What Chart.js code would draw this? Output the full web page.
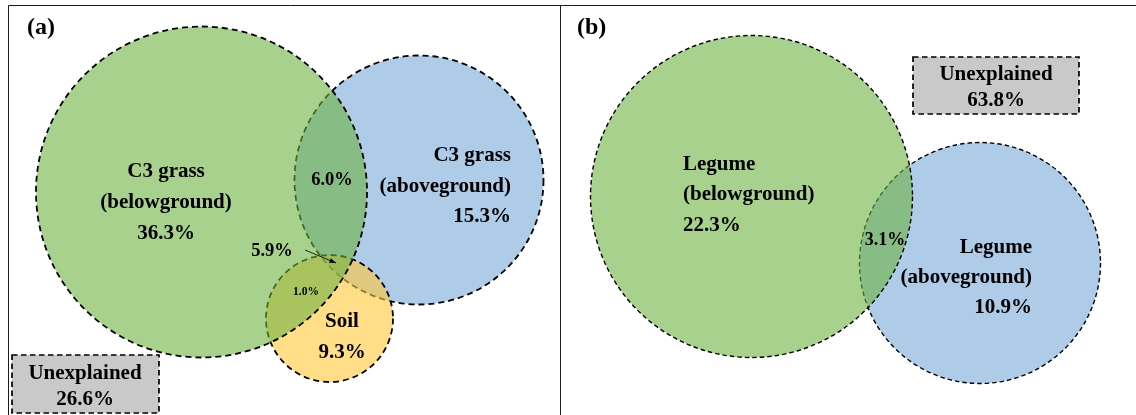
<!DOCTYPE html>
<html>
<head>
<meta charset="utf-8">
<script src="https://cdn.jsdelivr.net/npm/chart.js@4/dist/chart.umd.min.js"></script>
<style>
  html, body { margin: 0; padding: 0; background: #ffffff; }
  #wrap { width: 1136px; height: 415px; position: relative; }
</style>
</head>
<body>
<div id="wrap"><canvas id="venn"></canvas></div>
<script>
// ---- Variance partitioning values (%) ----
// Panel (a): C3 grass below/aboveground and soil
const aNames = ['C3 grass', 'C3 grass', 'Soil'];
const aParts = ['(belowground)', '(aboveground)', ''];
const aUnique = [36.3, 15.3, 9.3];
// shared fractions: below∩above, below∩above∩soil, below∩soil
const aShared = [6.0, 5.9, 1.0];
const aUnexplained = [26.6];

// Panel (b): legume below/aboveground
const bNames = ['Legume', 'Legume'];
const bParts = ['(belowground)', '(aboveground)'];
const bUnique = [22.3, 10.9];
const bShared = [3.1];
const bUnexplained = [63.8];

// ---- Layout (canvas units: x to the right, y downward) ----
const circlesA = [
  { x: 201.5, y: 192, r: 165.5 },   // belowground
  { x: 419, y: 180, r: 124.5 },     // aboveground
  { x: 329.5, y: 318.5, r: 63.5 }   // soil
];
const circlesB = [
  { x: 751.5, y: 196.5, r: 161 },   // belowground
  { x: 980, y: 263, r: 120.5 }      // aboveground
];

const GREEN = 'rgba(112,178,67,0.6)';
const BLUE = 'rgba(120,168,217,0.6)';
const GOLD = 'rgba(255,200,55,0.6)';
const FONT = '"Liberation Serif", "Times New Roman", serif';
const DASH_A = [6, 4];
const DASH_B = [4.5, 3];

function pct(v) { return v.toFixed(1) + '%'; }

function circleSet(c, color, order, width, dash) {
  return {
    data: [{ x: c.x, y: c.y, r: c.r }],
    backgroundColor: color,
    borderColor: '#000000',
    borderWidth: width,
    outlineDash: dash,
    order: order,
    clip: false
  };
}

// Dashed outlines for the circles (dash pattern per dataset)
const dashPlugin = {
  id: 'dashedOutline',
  beforeDatasetDraw(chart, args) {
    const ds = chart.data.datasets[args.index];
    chart.ctx.save();
    chart.ctx.setLineDash(ds.outlineDash || []);
  },
  afterDatasetDraw(chart) { chart.ctx.restore(); }
};

// Frame, panel letters, labels, unexplained boxes and the arrow
const annotatePlugin = {
  id: 'annotate',
  beforeDatasetsDraw(chart) {
    const ctx = chart.ctx, sx = chart.scales.x, sy = chart.scales.y;
    const X = v => sx.getPixelForValue(v), Y = v => sy.getPixelForValue(v);
    ctx.save();
    ctx.strokeStyle = '#1a1a1a';
    ctx.lineWidth = 1;
    ctx.beginPath();
    ctx.moveTo(X(8.5), Y(415)); ctx.lineTo(X(8.5), Y(5.5)); ctx.lineTo(X(1136), Y(5.5));
    ctx.moveTo(X(560.5), Y(5.5)); ctx.lineTo(X(560.5), Y(415));
    ctx.stroke();
    ctx.restore();
  },
  afterDatasetsDraw(chart) {
    const ctx = chart.ctx, sx = chart.scales.x, sy = chart.scales.y;
    const X = v => sx.getPixelForValue(v), Y = v => sy.getPixelForValue(v);
    ctx.save();
    ctx.fillStyle = '#000000';
    ctx.textBaseline = 'middle';

    function text(str, x, y, size, align) {
      ctx.font = 'bold ' + size + 'px ' + FONT;
      ctx.textAlign = align || 'center';
      ctx.fillText(str, X(x), Y(y));
    }
    function box(x0, y0, x1, y1) {
      ctx.save();
      ctx.fillStyle = '#c9c9c9';
      ctx.fillRect(X(x0), Y(y0), X(x1) - X(x0), Y(y1) - Y(y0));
      ctx.strokeStyle = '#000000';
      ctx.lineWidth = 1.7;
      ctx.setLineDash([5.5, 3.5]);
      ctx.strokeRect(X(x0), Y(y0), X(x1) - X(x0), Y(y1) - Y(y0));
      ctx.restore();
    }

    // panel letters
    text('(a)', 27, 28, 24, 'left');
    text('(b)', 577, 28, 24, 'left');

    // panel (a) labels
    text(aNames[0], 166, 172, 21);
    text(aParts[0], 166, 203, 21);
    text(pct(aUnique[0]), 166, 234, 21);

    text(aNames[1], 511, 156, 21, 'right');
    text(aParts[1], 511, 187, 21, 'right');
    text(pct(aUnique[1]), 511, 217, 21, 'right');

    text(aNames[2], 342, 322, 21);
    text(pct(aUnique[2]), 342, 353, 21);

    text(pct(aShared[0]), 332, 180, 18.5);
    text(pct(aShared[1]), 272, 251, 18.5);
    text(pct(aShared[2]), 306, 292, 11.5);

    // arrow to the three-way overlap
    const ax0 = X(305), ay0 = Y(250), ax1 = X(336), ay1 = Y(263);
    ctx.save();
    ctx.strokeStyle = '#000000';
    ctx.lineWidth = 0.8;
    ctx.beginPath(); ctx.moveTo(ax0, ay0); ctx.lineTo(ax1, ay1); ctx.stroke();
    const ang = Math.atan2(ay1 - ay0, ax1 - ax0);
    ctx.beginPath();
    ctx.moveTo(ax1, ay1);
    ctx.lineTo(ax1 - 7 * Math.cos(ang - 0.35), ay1 - 7 * Math.sin(ang - 0.35));
    ctx.lineTo(ax1 - 7 * Math.cos(ang + 0.35), ay1 - 7 * Math.sin(ang + 0.35));
    ctx.closePath(); ctx.fill();
    ctx.restore();

    box(12, 355, 159, 413);
    text('Unexplained', 85, 374, 21);
    text(pct(aUnexplained[0]), 85, 400, 21);

    // panel (b) labels
    text(bNames[0], 683, 165, 21, 'left');
    text(bParts[0], 683, 195, 21, 'left');
    text(pct(bUnique[0]), 683, 226, 21, 'left');

    text(bNames[1], 1032, 248, 21, 'right');
    text(bParts[1], 1032, 278, 21, 'right');
    text(pct(bUnique[1]), 1032, 308, 21, 'right');

    text(pct(bShared[0]), 885, 240, 18);

    box(913, 57, 1079, 114);
    text('Unexplained', 996, 75, 21);
    text(pct(bUnexplained[0]), 996, 101, 21);

    ctx.restore();
  }
};

new Chart(document.getElementById('venn'), {
  type: 'bubble',
  data: {
    datasets: [
      // lower order is drawn on top
      circleSet(circlesA[0], GREEN, 1, 1.8, DASH_A),
      circleSet(circlesA[2], GOLD, 2, 1.8, DASH_A),
      circleSet(circlesA[1], BLUE, 3, 1.8, DASH_A),
      circleSet(circlesB[0], GREEN, 1, 1.4, DASH_B),
      circleSet(circlesB[1], BLUE, 3, 1.4, DASH_B)
    ]
  },
  options: {
    responsive: true,
    maintainAspectRatio: false,
    animation: false,
    events: [],
    layout: { padding: 0, autoPadding: false },
    plugins: { legend: { display: false }, tooltip: { enabled: false } },
    scales: {
      x: { type: 'linear', min: 0, max: 1136, display: false },
      y: { type: 'linear', min: 0, max: 415, reverse: true, display: false }
    }
  },
  plugins: [annotatePlugin, dashPlugin]
});
</script>
</body>
</html>
